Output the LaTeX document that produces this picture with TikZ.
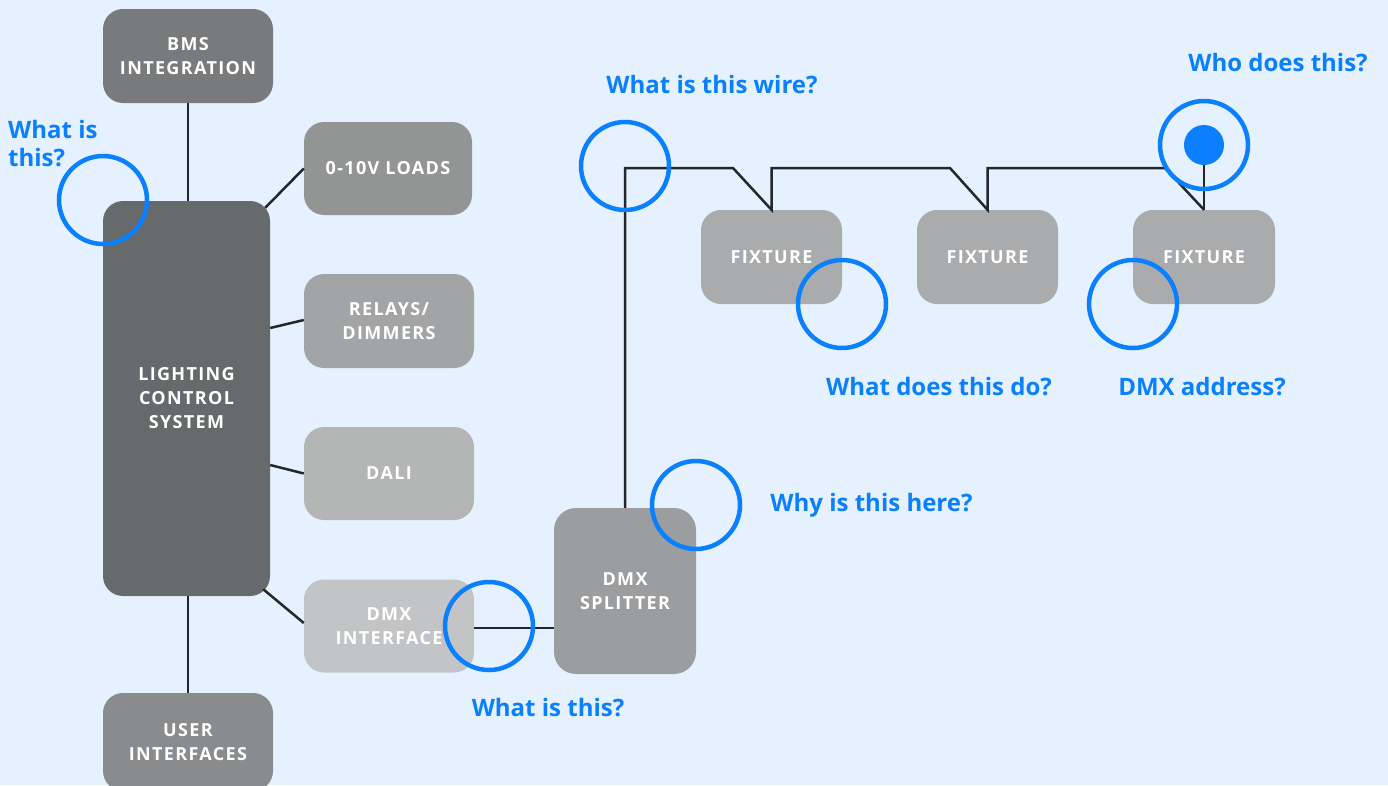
\documentclass[tikz,border=0pt]{standalone}
\usepackage{fontspec}
\setmainfont{Open Sans}
\newfontfamily\boxfont{Open Sans}[LetterSpace=7.5]
\IfFontExistsTF{Open Sans SemiBold}{\newfontfamily\lblfont{Open Sans SemiBold}}{\newcommand\lblfont{\bfseries}}
\usetikzlibrary{calc}
\definecolor{bg}{HTML}{E5F1FE}
\definecolor{qblue}{HTML}{0A80FF}
\definecolor{wirec}{HTML}{23272A}
\definecolor{cBMS}{HTML}{797A7B}
\definecolor{cLoad}{HTML}{939494}
\definecolor{cLCS}{HTML}{676A6B}
\definecolor{cRel}{HTML}{A3A4A5}
\definecolor{cDali}{HTML}{B4B5B5}
\definecolor{cDmxi}{HTML}{C3C4C5}
\definecolor{cUser}{HTML}{8A8B8C}
\definecolor{cSplit}{HTML}{9C9D9E}
\definecolor{cFix}{HTML}{AAABAC}
\tikzset{
  box/.style={rectangle, rounded corners=20pt, text=white, inner sep=0pt,
    font=\boxfont\bfseries\fontsize{18}{24}\selectfont, align=center},
  wire/.style={draw=wirec, line width=2.5pt, line join=miter},
  ring/.style={circle, draw=qblue, line width=4.5pt, minimum size=88pt, inner sep=0pt},
  qlabel/.style={text=qblue, inner sep=0pt, font=\lblfont\fontsize{24}{28.5}\selectfont}
}
\begin{document}
\begin{tikzpicture}[x=1pt,y=-1pt]
\useasboundingbox (0,0) rectangle (1388,785);
\fill[bg] (0,0) rectangle (1388,785);
\clip (0,0) rectangle (1388,785);
% boxes
\node[box, fill=cBMS, minimum width=170pt, minimum height=94pt] (bms) at (188,56) {BMS\\INTEGRATION};
\node[box, fill=cLCS, minimum width=167pt, minimum height=395pt] (lcs) at (186.5,398.5) {LIGHTING\\CONTROL\\SYSTEM};
\node[box, fill=cLoad, minimum width=168pt, minimum height=93pt] (load) at (388,168.5) {0-10V LOADS};
\node[box, fill=cRel, minimum width=170pt, minimum height=94pt] (rel) at (389,321) {RELAYS/\\DIMMERS};
\node[box, fill=cDali, minimum width=170pt, minimum height=93pt] (dali) at (389,473.5) {DALI};
\node[box, fill=cDmxi, minimum width=170pt, minimum height=93pt] (dmxi) at (389,626) {DMX\\INTERFACE};
\node[box, fill=cUser, minimum width=170pt, minimum height=98pt] (user) at (188,742) {USER\\INTERFACES};
\node[box, fill=cSplit, rounded corners=22pt, minimum width=142pt, minimum height=166pt] (split) at (625,591) {DMX\\SPLITTER};
\node[box, fill=cFix, minimum width=141pt, minimum height=94pt] (fx1) at (771.5,257) {FIXTURE};
\node[box, fill=cFix, minimum width=141pt, minimum height=94pt] (fx2) at (987.5,257) {FIXTURE};
\node[box, fill=cFix, minimum width=142pt, minimum height=94pt] (fx3) at (1204,257) {FIXTURE};
\node[circle, fill=qblue, minimum size=40pt, inner sep=0pt] (dot) at (1204,145) {};
% connectors
\draw[wire] (bms.south) -- (bms.south |- lcs.north);
\draw[wire] (user.north |- lcs.south) -- (user.north);
\draw[wire] ($(lcs.north east)+(-5,7)$) -- (load.west);
\draw[wire] ($(lcs.east)+(0,-70.5)$) -- ($(rel.west)+(0,-1)$);
\draw[wire] ($(lcs.east)+(0,66.5)$) -- (dali.west);
\draw[wire] ($(lcs.south east)+(-7,-7)$) -- ($(dmxi.west)+(0,-3)$);
\draw[wire] ($(dmxi.east)+(0,2)$) -- ($(dmxi.east -| split.west)+(0,2)$);
\coordinate (wtop) at (0,168);
\coordinate (b1) at (733,168);
\coordinate (b2) at (950,168);
\coordinate (b3) at (1165,168);
\draw[wire] (split.north) -- (split.north |- wtop) -- (b1) -- (fx1.north) -- (fx1.north |- wtop) -- (b2) -- (fx2.north) -- (fx2.north |- wtop) -- (b3) -- (fx3.north);
\draw[wire] (fx3.north) -- (dot);
% rings
\node[ring] (r1) at (103,200) {};
\node[ring] (r2) at (625,166) {};
\node[ring] (r3) at (842,304) {};
\node[ring] (r4) at (1133,304) {};
\node[ring] (r5) at (1204,145) {};
\node[ring] (r6) at (696,505) {};
\node[ring] (r7) at (489,626) {};
% labels
\node[qlabel, anchor=base west, align=left] (l1) at (8,166.5) {What is\\this?};
\node[qlabel, anchor=base] (l2) at (712,93) {What is this wire?};
\node[qlabel, anchor=base] (l3) at (1278,71) {Who does this?};
\node[qlabel, anchor=base] (l4) at (939,395) {What does this do?};
\node[qlabel, anchor=base] (l5) at (1202,395) {DMX address?};
\node[qlabel, anchor=base] (l6) at (871.5,511) {Why is this here?};
\node[qlabel, anchor=base] (l7) at (548,716) {What is this?};
\end{tikzpicture}
\end{document}
